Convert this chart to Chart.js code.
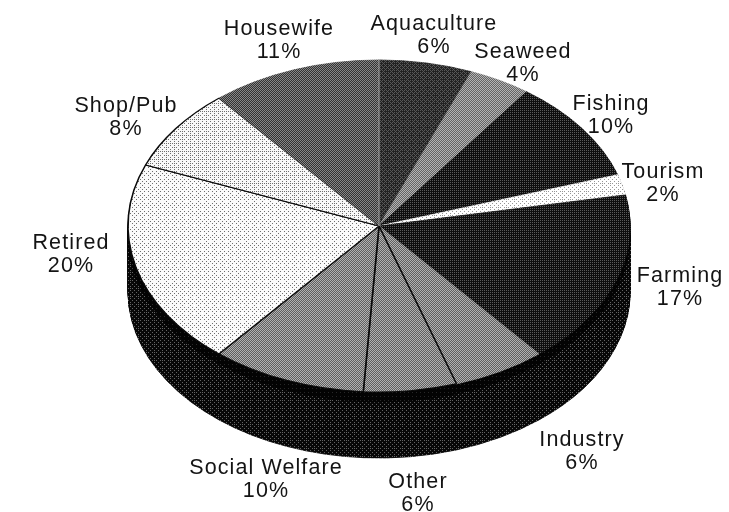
<!DOCTYPE html>
<html>
<head>
<meta charset="utf-8">
<title>Occupations</title>
<script src="https://cdn.jsdelivr.net/npm/chart.js@4/dist/chart.umd.min.js"></script>
<style>
  html, body { margin: 0; padding: 0; background: #fff; }
  canvas { display: block; }
</style>
</head>
<body>
<canvas id="pie" width="729" height="512"></canvas>
<script>
const categories = ['Aquaculture', 'Seaweed', 'Fishing', 'Tourism', 'Farming', 'Industry', 'Other', 'Social Welfare', 'Retired', 'Shop/Pub', 'Housewife'];
const shares = [6, 4, 10, 2, 17, 6, 6, 10, 20, 8, 11];

// layout, centre x and first baseline of each label
const labelSpots = [[434, 30], [523, 58], [611, 110], [663, 178], [680, 282], [582, 446], [418, 488], [266, 474], [71, 249], [126, 112], [279, 35]];
// screen for each slice: dark ink, paper, share of paper
const screens = [[34, 88, 0.35], [100, 180, 0.5], [14, 90, 0.25], [150, 255, 0.85], [14, 90, 0.25], [95, 178, 0.5], [95, 178, 0.5], [95, 178, 0.5], [110, 250, 0.88], [110, 248, 0.82], [50, 135, 0.5]];
const edgeWidths = [0, 0, 0, 0, 0, 0, 1.6, 1.6, 1.6, 1.6, 0];

const radius = 251, faceCy = 226, squash = 166 / 251, depth = 66, blackBand = 10;

const bayer = [
    [0, 32, 8, 40, 2, 34, 10, 42], [48, 16, 56, 24, 50, 18, 58, 26],
    [12, 44, 4, 36, 14, 46, 6, 38], [60, 28, 52, 20, 62, 30, 54, 22],
    [3, 35, 11, 43, 1, 33, 9, 41], [51, 19, 59, 27, 49, 17, 57, 25],
    [15, 47, 7, 39, 13, 45, 5, 37], [63, 31, 55, 23, 61, 29, 53, 21]
];

// halftone tile, the source picture is a printed screen
function halftone([ink, paper, cover]) {
    const tile = document.createElement('canvas');
    tile.width = tile.height = 8;
    const t = tile.getContext('2d');
    for (let y = 0; y < 8; y++) {
        for (let x = 0; x < 8; x++) {
            const v = cover * 64 > bayer[y][x] ? paper : ink;
            t.fillStyle = `rgb(${v},${v},${v})`;
            t.fillRect(x, y, 1, 1);
        }
    }
    return t.createPattern(tile, 'repeat');
}

const ctx = document.getElementById('pie').getContext('2d');
const slicePatterns = screens.map(halftone);
const wallPattern = halftone([8, 100, 0.14]);
const bandPattern = halftone([4, 40, 0.05]);
const allPatterns = [...slicePatterns, wallPattern, bandPattern];

function enterFace(c, cy, dy) {
    c.save();
    c.translate(0, faceCy + dy);
    c.scale(1, squash);
    c.translate(0, -cy);
    // keep the screen aligned to device pixels under the squash
    const back = c.getTransform().inverse();
    allPatterns.forEach(p => p.setTransform(back));
}

const tiltPlugin = {
    id: 'tilt',
    beforeDatasetDraw(chart, args) {
        const c = chart.ctx;
        const arcs = args.meta.data;
        const cy = arcs[0].y;
        for (let dy = depth; dy >= 1; dy--) {
            enterFace(c, cy, dy);
            const fill = dy > blackBand ? wallPattern : bandPattern;
            arcs.forEach(arc => {
                const keep = arc.options;
                arc.options = Object.assign({}, keep, { backgroundColor: fill, borderColor: fill, borderWidth: 1 });
                arc.draw(c);
                arc.options = keep;
            });
            c.restore();
        }
        enterFace(c, cy, 0);
    },
    afterDatasetDraw(chart, args) {
        const c = chart.ctx;
        // pale seam between Housewife and Aquaculture
        const first = args.meta.data[0];
        c.beginPath();
        c.moveTo(first.x, first.y);
        c.lineTo(first.x + first.outerRadius * Math.cos(first.startAngle), first.y + first.outerRadius * Math.sin(first.startAngle));
        c.strokeStyle = '#b4b4b4';
        c.lineWidth = 1;
        c.stroke();
        c.restore();
    },
    afterDraw(chart) {
        const c = chart.ctx;
        c.save();
        c.font = '21.5px "Liberation Sans", Arial, sans-serif';
        c.letterSpacing = '1.1px';
        c.fillStyle = '#141414';
        c.textAlign = 'center';
        c.textBaseline = 'alphabetic';
        categories.forEach((name, i) => {
            const [x, y] = labelSpots[i];
            c.fillText(name, x, y);
            c.fillText(shares[i] + '%', x, y + 22.5);
        });
        c.restore();
    }
};

new Chart(ctx, {
    type: 'pie',
    data: {
        labels: categories,
        datasets: [{
            data: shares,
            backgroundColor: slicePatterns,
            borderColor: slicePatterns.map((p, i) => edgeWidths[i] ? '#0a0a0a' : p),
            borderWidth: edgeWidths.map(w => w || 1),
            radius: radius,
            clip: false
        }]
    },
    options: {
        responsive: false,
        animation: false,
        events: [],
        layout: { padding: { left: 29, right: 0, top: 0, bottom: 0 } },
        plugins: { legend: { display: false }, tooltip: { enabled: false }, title: { display: false } }
    },
    plugins: [tiltPlugin]
});
</script>
</body>
</html>
